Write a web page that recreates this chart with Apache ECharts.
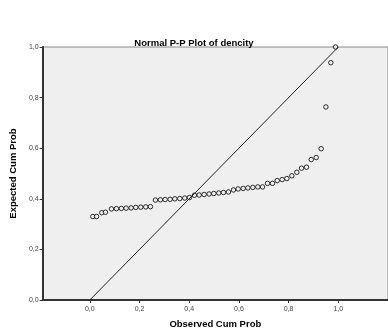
<!DOCTYPE html>
<html>
<head>
<meta charset="utf-8">
<script src="https://cdn.jsdelivr.net/npm/echarts@6/dist/echarts.min.js"></script>
<style>
  html, body { margin: 0; padding: 0; background: #fff; }
  #chart { width: 388px; height: 334px; }
</style>
</head>
<body>
<div id="chart"></div>
<script>
// observed cum prob (x) and expected cum prob (y)
var observed = [0.012, 0.027, 0.048, 0.063, 0.087, 0.107, 0.127, 0.146, 0.166, 0.185,
    0.205, 0.225, 0.244, 0.264, 0.284, 0.303, 0.323, 0.342, 0.362, 0.382,
    0.401, 0.421, 0.440, 0.460, 0.480, 0.499, 0.519, 0.538, 0.558, 0.578,
    0.597, 0.617, 0.636, 0.656, 0.676, 0.695, 0.715, 0.735, 0.754, 0.774,
    0.793, 0.813, 0.833, 0.852, 0.872, 0.891, 0.911, 0.931, 0.950, 0.970, 0.989];
var expected = [0.330, 0.330, 0.345, 0.347, 0.360, 0.361, 0.362, 0.363, 0.364, 0.366,
    0.367, 0.368, 0.369, 0.395, 0.396, 0.397, 0.398, 0.400, 0.401, 0.403,
    0.405, 0.414, 0.415, 0.417, 0.419, 0.421, 0.423, 0.425, 0.427, 0.435,
    0.439, 0.441, 0.443, 0.445, 0.447, 0.447, 0.461, 0.461, 0.472, 0.476,
    0.480, 0.491, 0.505, 0.521, 0.525, 0.555, 0.563, 0.598, 0.763, 0.938, 1.000];
var refLine = [[0, 0], [1, 1]];
var xTicks = [0, 0.2, 0.4, 0.6, 0.8, 1.0];

var points = [];
for (var i = 0; i < observed.length; i++) {
    points.push([observed[i], expected[i]]);
}

function comma(v) {
    return Number(v).toFixed(1).replace('.', ',');
}

var chart = echarts.init(document.getElementById('chart'));
var option = {
    animation: false,
    textStyle: { fontFamily: 'Liberation Sans, Arial, sans-serif' },
    title: {
        text: 'Normal P-P Plot of dencity',
        left: 'center',
        top: 33,
        textStyle: { fontSize: 9.5, fontWeight: 'bold', color: '#000' }
    },
    grid: {
        left: 39,
        top: 47,
        right: -6,
        bottom: 31,
        show: true,
        backgroundColor: '#efefef',
        borderColor: '#8a8a8a',
        borderWidth: 1
    },
    xAxis: {
        type: 'value',
        min: -0.19,
        max: 1.2,
        name: 'Observed Cum Prob',
        nameLocation: 'middle',
        nameGap: 19,
        nameTextStyle: { fontSize: 9.5, fontWeight: 'bold', color: '#000' },
        splitLine: { show: false },
        axisLine: { onZero: false, lineStyle: { color: '#333', width: 2 } },
        axisTick: { customValues: xTicks, length: 3, lineStyle: { color: '#333' } },
        axisLabel: {
            customValues: xTicks,
            formatter: comma,
            fontSize: 7,
            color: '#444',
            margin: 6
        }
    },
    yAxis: {
        type: 'value',
        min: 0,
        max: 1,
        interval: 0.2,
        name: 'Expected Cum Prob',
        nameLocation: 'middle',
        nameGap: 24,
        nameTextStyle: { fontSize: 9.5, fontWeight: 'bold', color: '#000' },
        splitLine: { show: false },
        axisLine: { show: true, onZero: false, lineStyle: { color: '#333', width: 2 } },
        axisTick: { show: true, length: 3, lineStyle: { color: '#333' } },
        axisLabel: { formatter: comma, fontSize: 7, color: '#444', margin: 4 }
    },
    series: [{
        type: 'line',
        data: refLine,
        symbol: 'none',
        silent: true,
        lineStyle: { color: '#222', width: 1 }
    }, {
        type: 'scatter',
        data: points,
        symbol: 'circle',
        symbolSize: 4.5,
        itemStyle: { color: '#efefef', borderColor: '#000', borderWidth: 1 }
    }]
};
chart.setOption(option);
window.addEventListener('resize', function () {
    chart.resize();
});
</script>
</body>
</html>
